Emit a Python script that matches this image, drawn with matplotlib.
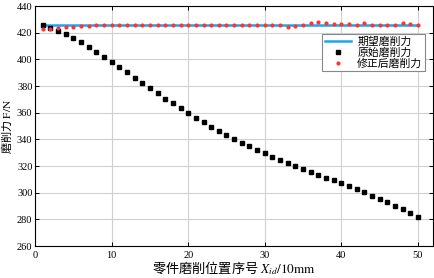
import matplotlib
matplotlib.use("Agg")
import matplotlib.pyplot as plt
import numpy as np

plt.rcParams['font.family'] = ['Liberation Serif', 'Noto Sans CJK SC', 'DejaVu Sans']
plt.rcParams['mathtext.fontset'] = 'stix'

# 零件位置序号
pos = np.arange(1, 51)
# 期望磨削力
expected = [426] * 50
# 原始磨削力
original = [426, 423.75, 421.25, 418.75, 415.75, 412.75, 409.5, 405.75, 402, 398.25,
            394.25, 390.25, 386.25, 382.5, 378.5, 374.5, 370.5, 367, 363.25, 359.75,
            356.25, 352.75, 349.5, 346.25, 343.25, 340.5, 337.5, 334.75, 332, 329.5,
            327, 324.5, 322.25, 320.25, 317.75, 315.5, 313.5, 311.25, 309.25, 307,
            304.75, 302.5, 300.25, 297.75, 295.5, 293, 290.25, 287.75, 285, 281.75]
# 修正后磨削力
corrected = [423, 423, 423.25, 424, 424.5, 425, 425.25, 425.5, 425.75, 425.75,
             425.75, 425.75, 425.75, 425.75, 425.75, 425.75, 425.75, 425.75, 425.75, 426,
             425.75, 425.75, 425.75, 425.75, 425.75, 425.75, 425.75, 425.75, 425.75, 425.75,
             425.75, 425.5, 424.5, 425.25, 426, 427, 427.75, 427, 426.75, 426.5,
             426.25, 426, 427, 426, 426, 426, 426, 427, 426.75, 425.75]

fig = plt.figure(figsize=(4.34, 2.78), dpi=100)
ax = fig.add_axes([0.081, 0.115, 0.917, 0.863])

ax.plot(pos, expected, color='#1aa7ec', lw=1.8, label='期望磨削力', zorder=2)
ax.plot(pos, original, 's', color='black', ms=2.6, label='原始磨削力', zorder=3)
ax.plot(pos, corrected, 'o', color='#ff3333', ms=3.0, mec='none', label='修正后磨削力', zorder=4)

ax.set_xlim(0, 52)
ax.set_ylim(260, 440)
ax.set_xticks(range(0, 51, 10))
ax.set_yticks(range(260, 441, 20))
ax.grid(True, color='#d0d0d0', lw=0.8)
ax.set_axisbelow(True)
ax.tick_params(direction='in', top=True, right=True, labelsize=7.5, length=3, width=0.7)
ax.tick_params(axis='y', pad=2)
for s in ax.spines.values():
    s.set_linewidth(0.8)

ax.set_ylabel('磨削力 $\\mathrm{F/N}$', fontsize=8, family=['Noto Sans CJK SC'])
ax.yaxis.set_label_coords(-0.052, 0.5)
ax.set_xlabel('零件磨削位置序号 $X_{id}\\mathrm{/10mm}$', fontsize=9.5,
              family=['Noto Sans CJK SC'], labelpad=0)

leg = ax.legend(loc='upper right', bbox_to_anchor=(0.98, 0.885),
                prop={'family': ['Noto Sans CJK SC'], 'size': 7.8},
                fancybox=False, framealpha=1, edgecolor='#888888',
                handlelength=2.4, handletextpad=0.6, borderpad=0.25,
                labelspacing=0.05, borderaxespad=0)
leg.get_frame().set_linewidth(0.8)

fig.savefig('out.png', dpi=100)
